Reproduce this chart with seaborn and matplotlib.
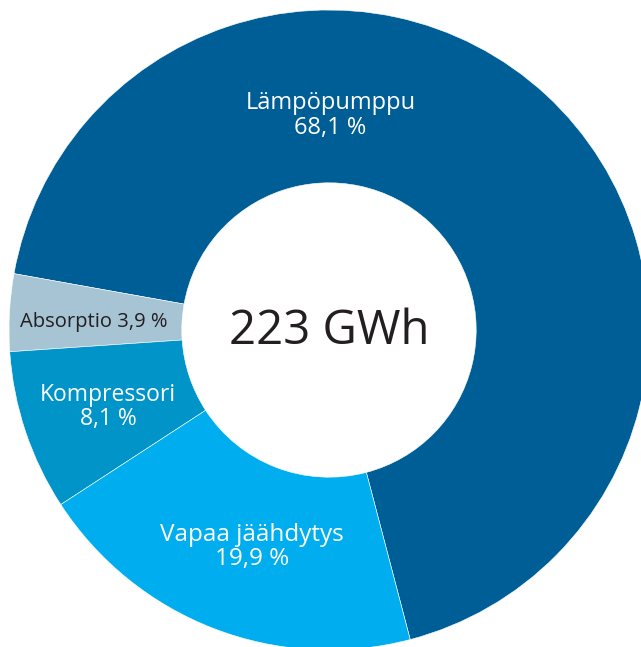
import matplotlib
matplotlib.use("Agg")
import matplotlib.pyplot as plt
import seaborn as sns

# share of district cooling production by source
labels = ["Lämpöpumppu", "Absorptio", "Kompressori", "Vapaa jäähdytys"]
shares = [68.1, 3.9, 8.1, 19.9]
label_text = ["Lämpöpumppu\n68,1 %", "Absorptio 3,9 %", "Kompressori\n8,1 %", "Vapaa jäähdytys\n19,9 %"]
colors = ["#005e96", "#a6c4d4", "#0094c8", "#00aeef"]
text_colors = ["white", "#231f20", "white", "white"]
total_text = "223 GWh"

sns.set_theme(style="white")
plt.rcParams["font.family"] = ["Open Sans", "DejaVu Sans"]

fig = plt.figure(figsize=(6.41, 6.47), dpi=100)
ax = fig.add_axes([0, 0, 1, 1])

ax.pie(shares, colors=colors, startangle=-75.3, counterclock=True,
       radius=1.0, wedgeprops=dict(width=0.54, edgecolor="white", linewidth=0.4))

# label positions (data units, 1 = outer radius)
label_pos = [(0.005, 0.67), (-0.735, 0.025), (-0.69, -0.24), (-0.24, -0.678)]
label_size = [17, 14.5, 16.5, 17.5]
for txt, (x, y), c, s in zip(label_text, label_pos, text_colors, label_size):
    ax.text(x, y, txt, ha="center", va="center", color=c, fontsize=s, linespacing=1.02)

ax.text(0, -0.005, total_text, ha="center", va="center", color="#231f20", fontsize=34)

ax.set_aspect("auto")
ax.set_xlim(-329 / 320, (641 - 329) / 320)
ax.set_ylim(-(647 - 330) / 320, 330 / 320)
ax.axis("off")

fig.savefig("out.png", dpi=100)
